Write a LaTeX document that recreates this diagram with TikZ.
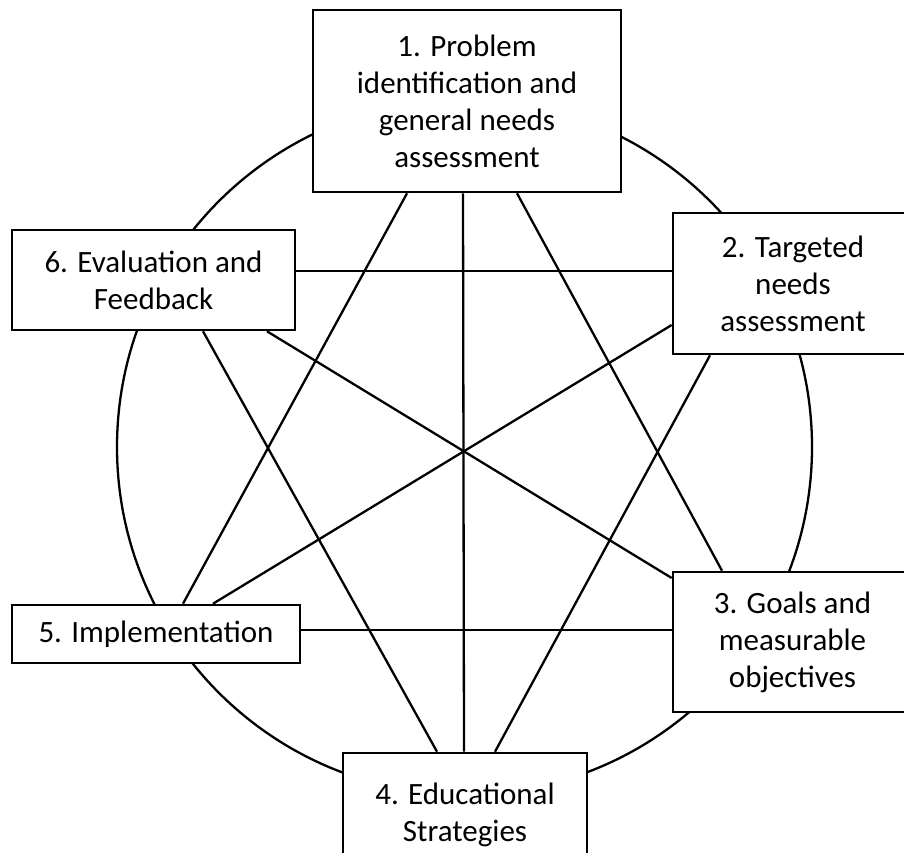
\documentclass[tikz,border=0pt]{standalone}
\usepackage{fontspec}
\setmainfont{Carlito}
\begin{document}
\begin{tikzpicture}[x=1pt,y=-1pt,
  stagebox/.style={draw=black, line width=2.6pt, fill=white, inner sep=0pt,
    align=center, font=\fontsize{31}{37}\selectfont},
  link/.style={draw=black, line width=2.3pt},
  ring/.style={draw=black, line width=2.3pt}]
\useasboundingbox (0,0) rectangle (904,853);
\draw[ring] (464.5,447) circle[radius=347.5];
% stage boxes
\node[stagebox, minimum width=308pt, minimum height=182pt] (b1) at (467,101)
  {1. Problem\\identification and\\general needs\\assessment};
\node[stagebox, minimum width=240pt, minimum height=141pt] (b2) at (793,283.5)
  {2. Targeted\\needs\\assessment};
\node[stagebox, minimum width=239pt, minimum height=140pt] (b3) at (792.5,642)
  {3. Goals and\\measurable\\objectives};
\node[stagebox, minimum width=244pt, minimum height=124pt] (b4) at (465,815)
  {4. Educational\\Strategies};
\node[stagebox, minimum width=288pt, minimum height=58pt] (b5) at (156,634)
  {5. Implementation};
\node[stagebox, minimum width=283pt, minimum height=100pt] (b6) at (153.5,280)
  {6. Evaluation and\\Feedback};
% connectors
\draw[link] ([xshift=-60pt]b1.south) -- ([xshift=27pt]b5.north);
\draw[link] ([xshift=-4pt]b1.south) -- ([xshift=-1pt]b4.north);
\draw[link] ([xshift=50pt]b1.south) -- ([xshift=-70.5pt]b3.north);
\draw[link] ([yshift=9pt]b6.east) -- ([yshift=12.5pt]b2.west);
\draw[link] ([xshift=113.5pt]b6.south) -- ([yshift=64pt]b3.west);
\draw[link] ([xshift=49.5pt]b6.south) -- ([xshift=-28pt]b4.north);
\draw[link] ([yshift=-41.5pt]b2.west) -- ([xshift=57pt]b5.north);
\draw[link] ([xshift=-83pt]b2.south) -- ([xshift=30pt]b4.north);
\draw[link] ([yshift=4pt]b5.east) -- ([yshift=12pt]b3.west);
\end{tikzpicture}
\end{document}
